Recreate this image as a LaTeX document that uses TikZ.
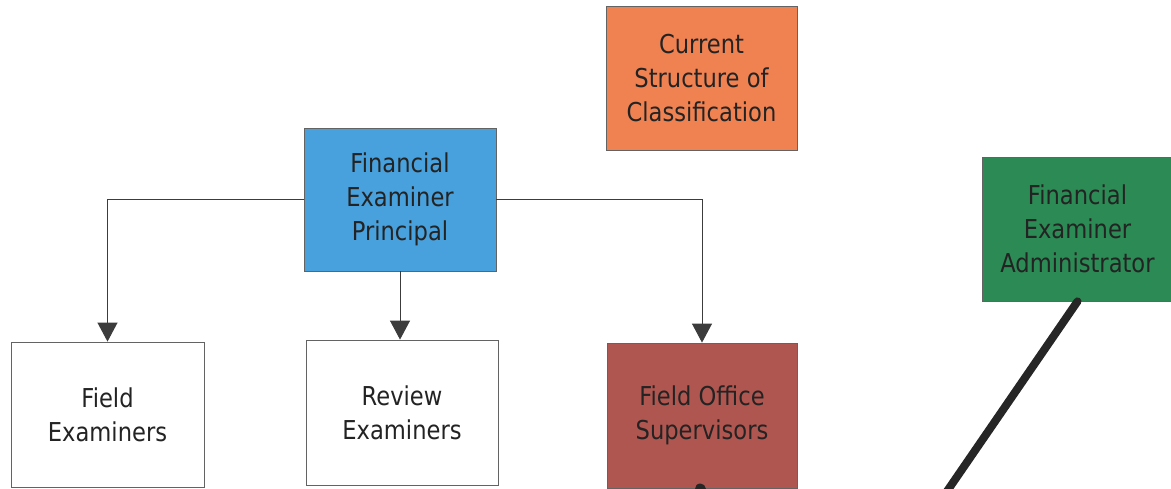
\documentclass[tikz,border=0pt]{standalone}
\usepackage{fontspec}
\setmainfont{DejaVu Sans}[FakeStretch=0.87]
\usetikzlibrary{arrows.meta}
\definecolor{cOrange}{RGB}{240,130,82}
\definecolor{cBlue}{RGB}{72,160,220}
\definecolor{cGreen}{RGB}{44,138,84}
\definecolor{cRed}{RGB}{176,86,80}
\definecolor{cText}{RGB}{35,35,35}
\definecolor{cLine}{RGB}{60,60,60}
\tikzset{
  box/.style={draw=cLine!80, line width=0.8pt, rectangle, align=center,
    minimum width=192pt, minimum height=144pt, inner sep=0pt,
    text=cText, font=\fontsize{26}{34}\selectfont},
  link/.style={draw=cLine, line width=1pt, -{Triangle[width=20pt,length=19pt]}},
  thick link/.style={draw=black!85, line width=8pt, line cap=round}
}
\begin{document}
\begin{tikzpicture}[x=1pt,y=-1pt]
\useasboundingbox (0,0) rectangle (1171,488);
\node[box, fill=cOrange, minimum width=191pt] (cur) at (701.5,78) {Current\\Structure of\\Classification};
\node[box, fill=cBlue, minimum height=143pt] (fep) at (400,199.5) {Financial\\Examiner\\Principal};
\node[box, fill=cGreen, minimum width=191pt] (fea) at (1077.5,229) {Financial\\Examiner\\Administrator};
\node[box, fill=white, minimum width=193pt, minimum height=145pt] (fe) at (107.5,414.5) {Field\\Examiners};
\node[box, fill=white, minimum height=145pt] (re) at (402,412.5) {Review\\Examiners};
\node[box, fill=cRed, minimum width=190pt, minimum height=145pt] (fos) at (702,415.5) {Field Office\\Supervisors};
\draw[link] (fep.west) -| (fe.north);
\draw[link] (fep.south) -- (fep.south |- re.north);
\draw[link] (fep.east) -| (fos.north);
\coordinate (adminEnd) at (941,500);
\draw[thick link] (fea.south) -- (adminEnd);
\coordinate (fosTop) at (700,489);
\coordinate (fosEnd) at (700,510);
\draw[thick link, line width=11pt] (fosTop) -- (fosEnd);
\end{tikzpicture}
\end{document}
